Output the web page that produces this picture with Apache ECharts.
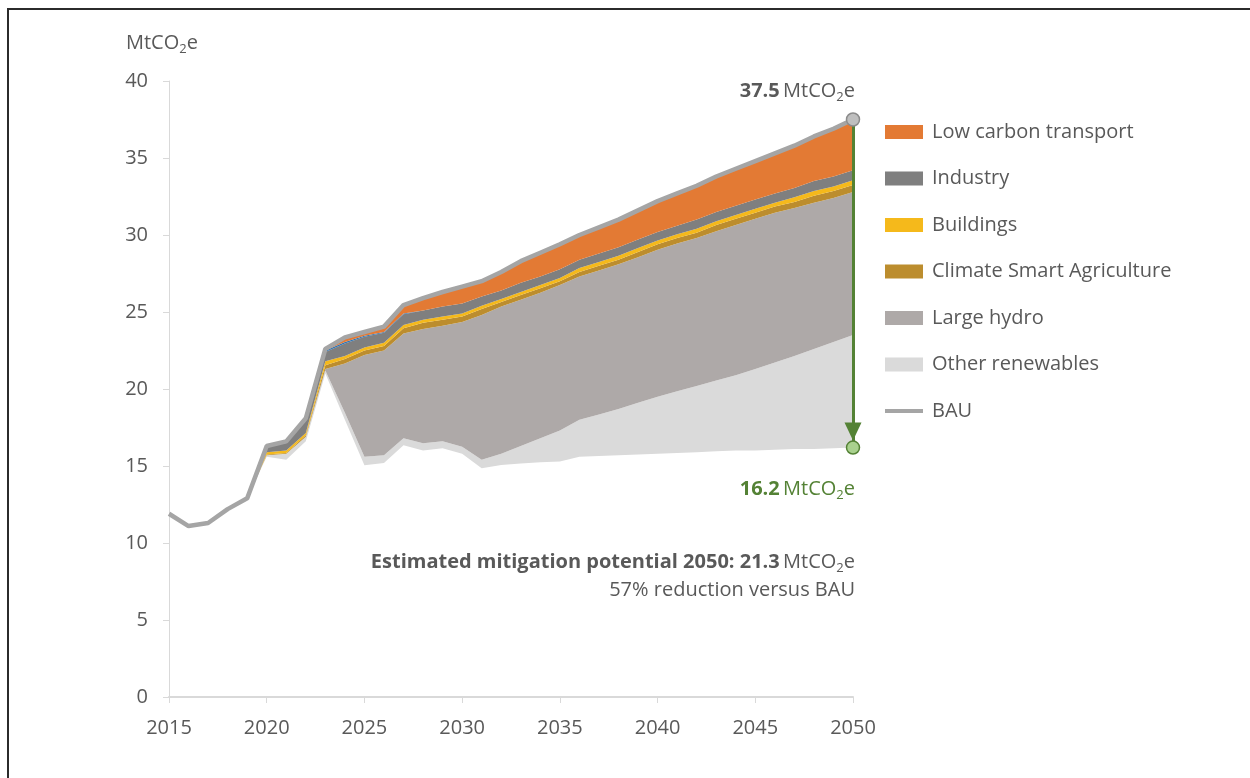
<!DOCTYPE html>
<html>
<head>
<meta charset="utf-8">
<title>Mitigation potential</title>
<script src="https://cdn.jsdelivr.net/npm/echarts@6.0.0/dist/echarts.min.js"></script>
<style>
  html, body { margin: 0; padding: 0; background: #fff; }
  #chart { width: 1250px; height: 778px; }
  #frame {
    position: absolute; left: 7px; top: 8px; width: 1400px; height: 900px;
    border-left: 2px solid #2b2b2b; border-top: 2px solid #2b2b2b;
    pointer-events: none;
  }
</style>
</head>
<body>
<div id="chart"></div>
<div id="frame"></div>
<script>
const years = ['2015', '2016', '2017', '2018', '2019', '2020', '2021', '2022', '2023', '2024',
  '2025', '2026', '2027', '2028', '2029', '2030', '2031', '2032', '2033', '2034',
  '2035', '2036', '2037', '2038', '2039', '2040', '2041', '2042', '2043', '2044',
  '2045', '2046', '2047', '2048', '2049', '2050'];

// business as usual emissions (MtCO2e)
const bau = [11.9, 11.1, 11.3, 12.2, 12.9, 16.3, 16.6, 18.1, 22.6, 23.35,
  23.7, 24.05, 25.45, 25.9, 26.3, 26.65, 27.0, 27.6, 28.3, 28.85,
  29.4, 30.0, 30.5, 31.0, 31.6, 32.2, 32.7, 33.2, 33.8, 34.3,
  34.8, 35.3, 35.8, 36.4, 36.9, 37.5];

// remaining emissions after mitigation (bottom of the stack, not filled)
const remaining = [11.9, 11.1, 11.3, 12.2, 12.9, 15.6, 15.4, 16.6, 21.0, 18.0,
  15.05, 15.2, 16.35, 16.0, 16.15, 15.8, 14.85, 15.06, 15.17, 15.24,
  15.3, 15.6, 15.65, 15.7, 15.75, 15.8, 15.85, 15.9, 15.95, 16.0,
  16.0, 16.05, 16.1, 16.1, 16.15, 16.2];

// mitigation wedges, stacked upwards
const otherRenewables = [0, 0, 0, 0, 0, 0.1, 0.4, 0.3, 0.2, 0.45,
  0.55, 0.5, 0.45, 0.47, 0.45, 0.45, 0.55, 0.74, 1.13, 1.56,
  2.0, 2.4, 2.7, 3.0, 3.35, 3.7, 4.0, 4.3, 4.6, 4.9,
  5.3, 5.67, 6.05, 6.5, 6.9, 7.3];
const largeHydro = [0, 0, 0, 0, 0, 0, 0, 0, 0.1, 3.2,
  6.6, 6.8, 6.8, 7.43, 7.5, 8.1, 9.4, 9.55, 9.5, 9.45,
  9.45, 9.3, 9.35, 9.4, 9.45, 9.55, 9.6, 9.6, 9.7, 9.75,
  9.75, 9.73, 9.6, 9.5, 9.35, 9.3];
const agriculture = [0, 0, 0, 0, 0, 0.05, 0.05, 0.1, 0.25, 0.3,
  0.3, 0.3, 0.35, 0.4, 0.4, 0.35, 0.4, 0.3, 0.3, 0.3,
  0.25, 0.3, 0.3, 0.3, 0.35, 0.35, 0.35, 0.35, 0.4, 0.4,
  0.4, 0.4, 0.4, 0.45, 0.45, 0.45];
const buildings = [0, 0, 0, 0, 0, 0.15, 0.15, 0.15, 0.25, 0.2,
  0.2, 0.2, 0.2, 0.2, 0.2, 0.2, 0.2, 0.2, 0.2, 0.2,
  0.2, 0.25, 0.25, 0.25, 0.25, 0.25, 0.25, 0.25, 0.25, 0.25,
  0.25, 0.25, 0.3, 0.3, 0.3, 0.3];
const industry = [0, 0, 0, 0, 0, 0.35, 0.5, 0.85, 0.6, 0.8,
  0.7, 0.65, 0.7, 0.6, 0.65, 0.65, 0.6, 0.55, 0.6, 0.55,
  0.57, 0.55, 0.55, 0.55, 0.55, 0.55, 0.55, 0.6, 0.6, 0.6,
  0.6, 0.6, 0.6, 0.65, 0.65, 0.65];
const otherMeasures = [0, 0, 0, 0, 0, 0.05, 0.05, 0.05, 0.1, 0.1,
  0.05, 0.05, 0.05, 0, 0, 0, 0, 0, 0, 0,
  0, 0, 0, 0, 0, 0, 0, 0, 0, 0,
  0, 0, 0, 0, 0, 0];
const transport = [0, 0, 0, 0, 0, 0, 0.05, 0.05, 0.1, 0.3,
  0.25, 0.35, 0.55, 0.8, 0.95, 1.1, 1.0, 1.2, 1.4, 1.55,
  1.63, 1.6, 1.7, 1.8, 1.9, 2.0, 2.1, 2.2, 2.3, 2.4,
  2.5, 2.6, 2.75, 2.9, 3.1, 3.3];

const yTicks = [0, 5, 10, 15, 20, 25, 30, 35, 40];

const lastYear = years[years.length - 1];
const bauEnd = bau[bau.length - 1];
const remainingEnd = remaining[remaining.length - 1];
const mitigation = bauEnd - remainingEnd;
const reductionPct = Math.round(mitigation / bauEnd * 100);

const FONT = 'Open Sans';
const TEXT = '#595959';
const GREEN = '#548235';

function wedge(name, data, color) {
  return {
    name: name,
    type: 'line',
    stack: 'total',
    data: data,
    symbol: 'none',
    lineStyle: { width: 0 },
    areaStyle: { color: color, opacity: 1 },
    itemStyle: { color: color },
    emphasis: { disabled: true }
  };
}

// rich-text styles for "MtCO2e" with a subscript 2
function unitRich(color) {
  return {
    b: { fontFamily: FONT, fontSize: 20, fontWeight: 'bold', fill: color, lineHeight: 26 },
    n: { fontFamily: FONT, fontSize: 20, fill: color, lineHeight: 26 },
    s: { fontFamily: FONT, fontSize: 13, fill: color, lineHeight: 13, verticalAlign: 'bottom' }
  };
}

const chart = echarts.init(document.getElementById('chart'));

chart.setOption({
  animation: false,
  textStyle: { fontFamily: FONT, color: TEXT },
  grid: { left: 169, right: 397, top: 81, bottom: 81 },
  legend: {
    orient: 'vertical',
    left: 880,
    top: 117,
    itemWidth: 38,
    itemHeight: 14,
    itemGap: 26.5,
    selectedMode: false,
    textStyle: { fontFamily: FONT, fontSize: 20, color: TEXT, padding: [0, 0, 0, 4] },
    data: [
      { name: 'Low carbon transport', icon: 'rect' },
      { name: 'Industry', icon: 'rect' },
      { name: 'Buildings', icon: 'rect' },
      { name: 'Climate Smart Agriculture', icon: 'rect' },
      { name: 'Large hydro', icon: 'rect' },
      { name: 'Other renewables', icon: 'rect' },
      // plain line icon; the hairline keeps the 38x14 box so the stroke stays thin
      { name: 'BAU', icon: 'path://M0 5H38V9H0Z M0 0H0.01V14H0Z' }
    ]
  },
  xAxis: {
    type: 'category',
    data: years,
    boundaryGap: false,
    axisLine: { lineStyle: { color: '#D9D9D9', width: 2 } },
    axisTick: { interval: 4, length: 6, lineStyle: { color: '#D9D9D9' } },
    axisLabel: { interval: 4, margin: 21, fontSize: 20, color: TEXT, fontFamily: FONT },
    splitLine: { show: false }
  },
  yAxis: {
    type: 'value',
    min: yTicks[0],
    max: yTicks[yTicks.length - 1],
    interval: yTicks[1] - yTicks[0],
    axisLine: { show: true, lineStyle: { color: '#D9D9D9' } },
    axisTick: { show: true, length: 6, lineStyle: { color: '#D9D9D9' } },
    axisLabel: { margin: 21, fontSize: 20, color: TEXT, fontFamily: FONT },
    splitLine: { show: false }
  },
  graphic: [
    {
      type: 'text', x: 126, y: 43,
      style: { text: '{n|MtCO}{s|2}{n|e}', rich: unitRich(TEXT), verticalAlign: 'middle' }
    },
    {
      type: 'text', x: 855, y: 91,
      style: {
        text: '{b|' + bauEnd.toFixed(1) + '} {n|MtCO}{s|2}{n|e}',
        rich: unitRich(TEXT), align: 'right', verticalAlign: 'middle'
      }
    },
    {
      type: 'text', x: 855, y: 489,
      style: {
        text: '{b|' + remainingEnd.toFixed(1) + '} {n|MtCO}{s|2}{n|e}',
        rich: unitRich(GREEN), align: 'right', verticalAlign: 'middle'
      }
    },
    {
      type: 'text', x: 855, y: 562,
      style: {
        text: '{b|Estimated mitigation potential ' + lastYear + ': ' + mitigation.toFixed(1) +
          '} {n|MtCO}{s|2}{n|e}',
        rich: unitRich(TEXT), align: 'right', verticalAlign: 'middle'
      }
    },
    {
      type: 'text', x: 855, y: 590,
      style: {
        text: reductionPct + '% reduction versus BAU',
        fontFamily: FONT, fontSize: 20, fill: TEXT, align: 'right', verticalAlign: 'middle'
      }
    }
  ],
  series: [
    {
      name: 'Remaining emissions',
      type: 'line',
      stack: 'total',
      data: remaining,
      symbol: 'none',
      lineStyle: { width: 0 },
      areaStyle: { opacity: 0 },
      emphasis: { disabled: true }
    },
    wedge('Other renewables', otherRenewables, '#DADADA'),
    wedge('Large hydro', largeHydro, '#AEA9A8'),
    wedge('Climate Smart Agriculture', agriculture, '#BC8D2E'),
    wedge('Buildings', buildings, '#F5B91B'),
    wedge('Industry', industry, '#7F7F7F'),
    wedge('Other measures', otherMeasures, '#2E75B6'),
    wedge('Low carbon transport', transport, '#E37A34'),
    {
      name: 'BAU',
      type: 'line',
      data: bau,
      symbol: 'none',
      z: 5,
      lineStyle: { color: '#A5A5A5', width: 4.5 },
      itemStyle: { color: '#A5A5A5' },
      emphasis: { disabled: true },
      markLine: {
        silent: true,
        symbol: ['none', 'none'],
        label: { show: false },
        lineStyle: { color: GREEN, width: 3, type: 'solid' },
        data: [[
          { coord: [lastYear, bauEnd] },
          { coord: [lastYear, remainingEnd] }
        ]]
      }
    },
    {
      // arrow head resting on the green marker
      name: 'Arrow head',
      type: 'scatter',
      z: 6,
      symbol: 'triangle',
      symbolRotate: 180,
      symbolSize: [17, 18],
      symbolOffset: [0, -16],
      data: [[lastYear, remainingEnd]],
      itemStyle: { color: GREEN, opacity: 1 },
      emphasis: { disabled: true }
    },
    {
      name: 'BAU end',
      type: 'scatter',
      z: 6,
      symbolSize: 13,
      data: [[lastYear, bauEnd]],
      itemStyle: { color: '#BFBFBF', borderColor: '#8C8C8C', borderWidth: 1.5, opacity: 1 },
      emphasis: { disabled: true }
    },
    {
      name: 'Remaining end',
      type: 'scatter',
      z: 7,
      symbolSize: 13,
      data: [[lastYear, remainingEnd]],
      itemStyle: { color: '#A9D18E', borderColor: GREEN, borderWidth: 1.5, opacity: 1 },
      emphasis: { disabled: true }
    }
  ]
});
</script>
</body>
</html>
